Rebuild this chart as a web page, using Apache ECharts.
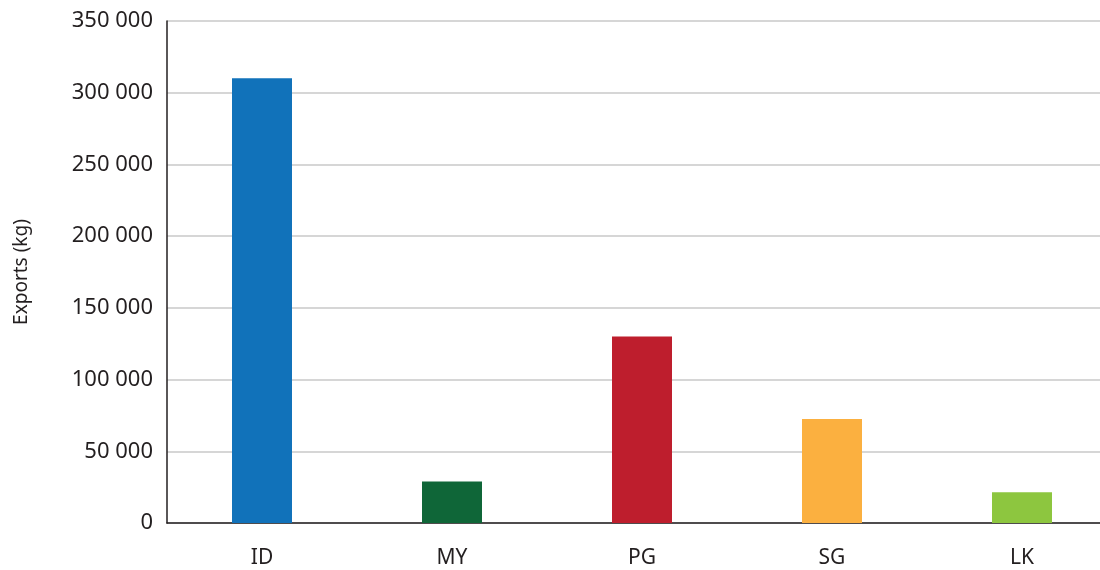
<!DOCTYPE html>
<html>
<head>
<meta charset="utf-8">
<script src="https://cdn.jsdelivr.net/npm/echarts@6/dist/echarts.min.js"></script>
<style>
  html, body { margin: 0; padding: 0; background: #fff; }
  #chart { width: 1100px; height: 570px; }
</style>
</head>
<body>
<div id="chart"></div>
<script>
var countries = ['ID', 'MY', 'PG', 'SG', 'LK'];
var exportsKg = [310000, 29000, 130000, 72500, 21500];
var barColors = ['#1172ba', '#0f6638', '#be1e2d', '#fbb040', '#8dc63f'];

var chart = echarts.init(document.getElementById('chart'));
var option = {
  animation: false,
  textStyle: { fontFamily: 'Noto Sans' },
  // plot area runs past the right edge, as in the original crop
  grid: { left: 167, width: 950, top: 21, height: 502, outerBoundsMode: 'none' },
  xAxis: {
    type: 'category',
    data: countries,
    axisLine: { lineStyle: { color: '#231f20', width: 1.5 } },
    axisTick: { show: false },
    axisLabel: { color: '#231f20', fontSize: 21, margin: 25 }
  },
  yAxis: {
    type: 'value',
    min: 0,
    max: 350000,
    interval: 50000,
    name: 'Exports (kg)',
    nameLocation: 'middle',
    nameRotate: 90,
    nameGap: 136,
    nameTextStyle: { color: '#231f20', fontSize: 19 },
    axisLine: { show: true, lineStyle: { color: '#231f20', width: 1.5 } },
    axisTick: { show: false },
    splitLine: { lineStyle: { color: '#c8c8c8', width: 1.5 } },
    axisLabel: {
      color: '#231f20',
      fontSize: 22,
      margin: 14,
      formatter: function (v) {
        return String(v).replace(/\B(?=(\d{3})+(?!\d))/g, ' ');
      }
    }
  },
  series: [{
    type: 'bar',
    barWidth: 60,
    data: exportsKg.map(function (v, i) {
      return { value: v, itemStyle: { color: barColors[i] } };
    })
  }]
};
chart.setOption(option);
</script>
</body>
</html>
